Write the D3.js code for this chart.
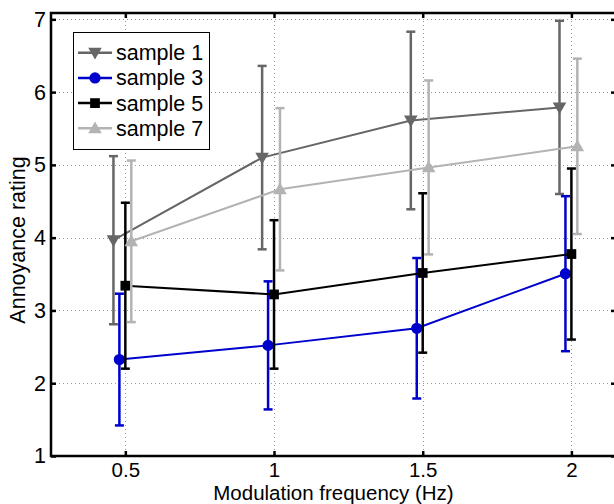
<!DOCTYPE html>
<html><head><meta charset="utf-8">
<script src="https://cdn.jsdelivr.net/npm/d3@7"></script>
<style>
html,body{margin:0;padding:0;background:#fff;overflow:hidden;}
text{font-family:"Liberation Sans",Arial,Helvetica,sans-serif;}
</style></head>
<body><svg id="c" width="614" height="504"></svg>
<script>
const freqs = [0.5, 1, 1.5, 2];
const xTicks = [0.5, 1, 1.5, 2];
const xTickLabels = ["0.5", "1", "1.5", "2"];
const yTicks = [1, 2, 3, 4, 5, 6, 7];
const seriesNames = ["sample 1", "sample 3", "sample 5", "sample 7"];
const seriesColors = ["#666666", "#0000cc", "#000000", "#b3b3b3"];
const seriesMarkers = ["triangleDown", "circle", "square", "triangleUp"];
const seriesOffsets = [-0.04, -0.02, 0, 0.02];
const sample1 = [3.965, 5.10, 5.61, 5.79];
const sample1Err = [1.155, 1.26, 1.22, 1.19];
const sample3 = [2.325, 2.52, 2.755, 3.505];
const sample3Err = [0.905, 0.88, 0.965, 1.065];
const sample5 = [3.34, 3.22, 3.515, 3.775];
const sample5Err = [1.14, 1.02, 1.095, 1.175];
const sample7 = [3.95, 4.665, 4.965, 5.255];
const sample7Err = [1.11, 1.115, 1.195, 1.205];

const seriesVals = [sample1, sample3, sample5, sample7];
const seriesErrs = [sample1Err, sample3Err, sample5Err, sample7Err];

const L = 51, R = 616, T = 13, B = 456;
const x = d3.scaleLinear().domain([0.25, 2.15]).range([L, R]);
const y = d3.scaleLinear().domain([1, 7.087]).range([B, T]);
const svg = d3.select("#c");

// grid
const grid = svg.append("g");
grid.selectAll(".gx").data(xTicks).enter().append("line")
  .attr("x1", d => Math.round(x(d)) + 0.5).attr("x2", d => Math.round(x(d)) + 0.5)
  .attr("y1", T).attr("y2", B)
  .attr("stroke", "#999").attr("stroke-width", 1).attr("stroke-dasharray", "1,3");
grid.selectAll(".gy").data(yTicks).enter().append("line")
  .attr("y1", d => Math.round(y(d)) + 0.5).attr("y2", d => Math.round(y(d)) + 0.5)
  .attr("x1", L).attr("x2", R)
  .attr("stroke", "#999").attr("stroke-width", 1).attr("stroke-dasharray", "1,3");

// axes
const fs = 21.5;
const fsX = 20.5;
const ax = svg.append("g").attr("transform", `translate(0,${B})`)
  .call(d3.axisBottom(x).tickValues(xTicks).tickFormat((d, i) => xTickLabels[i]).tickSize(-5).tickPadding(0));
const ay = svg.append("g").attr("transform", `translate(${L},0)`)
  .call(d3.axisLeft(y).tickValues(yTicks).tickFormat(d3.format("d")).tickSize(-5).tickPadding(5));
const axT = svg.append("g").attr("transform", `translate(0,${T})`)
  .call(d3.axisTop(x).tickValues(xTicks).tickFormat("").tickSize(-5));
const ayR = svg.append("g").attr("transform", `translate(${R},0)`)
  .call(d3.axisRight(y).tickValues(yTicks).tickFormat("").tickSize(-5));
[ax, ay, axT, ayR].forEach(g => {
  g.selectAll(".domain").remove();
  g.selectAll(".tick line").attr("stroke", "#000").attr("stroke-width", 2.5);
  g.selectAll("text").attr("font-size", fs).attr("fill", "#000")
    .style("font-family", '"Liberation Sans",Arial,sans-serif');
});
// x tick labels: baseline placed so they clear the axis title below
ax.selectAll("text").attr("font-size", fsX).attr("y", 20.5).attr("dy", 0);

// series
const sym = {
  triangleDown: d3.symbol().type(d3.symbolTriangle).size(80),
  triangleUp: d3.symbol().type(d3.symbolTriangle).size(80),
  circle: d3.symbol().type(d3.symbolCircle).size(100),
  square: d3.symbol().type(d3.symbolSquare).size(95)
};
function marker(g, kind, cx, cy, color) {
  const rot = kind === "triangleDown" ? 180 : 0;
  const dy = kind === "triangleDown" ? -1 : (kind === "triangleUp" ? 1 : 0);
  g.append("path").attr("d", sym[kind]())
    .attr("transform", `translate(${cx},${cy + dy}) rotate(${rot})`)
    .attr("fill", color);
}

const capW = 4.5;
seriesNames.forEach((name, si) => {
  const g = svg.append("g");
  const color = seriesColors[si];
  const vals = seriesVals[si], errs = seriesErrs[si];
  const pts = freqs.map((f, i) => [x(f + seriesOffsets[si]), y(vals[i]), y(vals[i] + errs[i]), y(vals[i] - errs[i])]);
  g.append("path").attr("d", d3.line()(pts.map(p => [p[0], p[1]])))
    .attr("fill", "none").attr("stroke", color).attr("stroke-width", 2);
  pts.forEach(p => {
    g.append("line").attr("x1", p[0]).attr("x2", p[0]).attr("y1", p[2]).attr("y2", p[3])
      .attr("stroke", color).attr("stroke-width", 2.5);
    [p[2], p[3]].forEach(yy => g.append("line").attr("x1", p[0] - capW).attr("x2", p[0] + capW)
      .attr("y1", yy).attr("y2", yy).attr("stroke", color).attr("stroke-width", 2.5));
    marker(g, seriesMarkers[si], p[0], p[1], color);
  });
});

// box
svg.append("rect").attr("x", L).attr("y", T).attr("width", R - L).attr("height", B - T)
  .attr("fill", "none").attr("stroke", "#000").attr("stroke-width", 2.5);

// legend
const lg = svg.append("g");
lg.append("rect").attr("x", 73.5).attr("y", 32.5).attr("width", 136).attr("height", 117)
  .attr("fill", "#fff").attr("stroke", "#000").attr("stroke-width", 1);
seriesNames.forEach((name, i) => {
  const cy = 52.7 + i * 25.2;
  lg.append("line").attr("x1", 78).attr("x2", 112).attr("y1", cy).attr("y2", cy)
    .attr("stroke", seriesColors[i]).attr("stroke-width", 2.5);
  marker(lg, seriesMarkers[i], 95, cy, seriesColors[i]);
  lg.append("text").attr("x", 116).attr("y", cy).attr("dy", "0.35em")
    .attr("font-size", fs).attr("fill", "#000").text(name);
});

// axis labels
svg.append("text").attr("x", (L + R) / 2).attr("y", 499.5)
  .attr("text-anchor", "middle").attr("font-size", fsX).text("Modulation frequency (Hz)");
svg.append("text").attr("transform", `translate(25,240) rotate(-90)`)
  .attr("text-anchor", "middle").attr("font-size", fs).text("Annoyance rating");
</script></body></html>
